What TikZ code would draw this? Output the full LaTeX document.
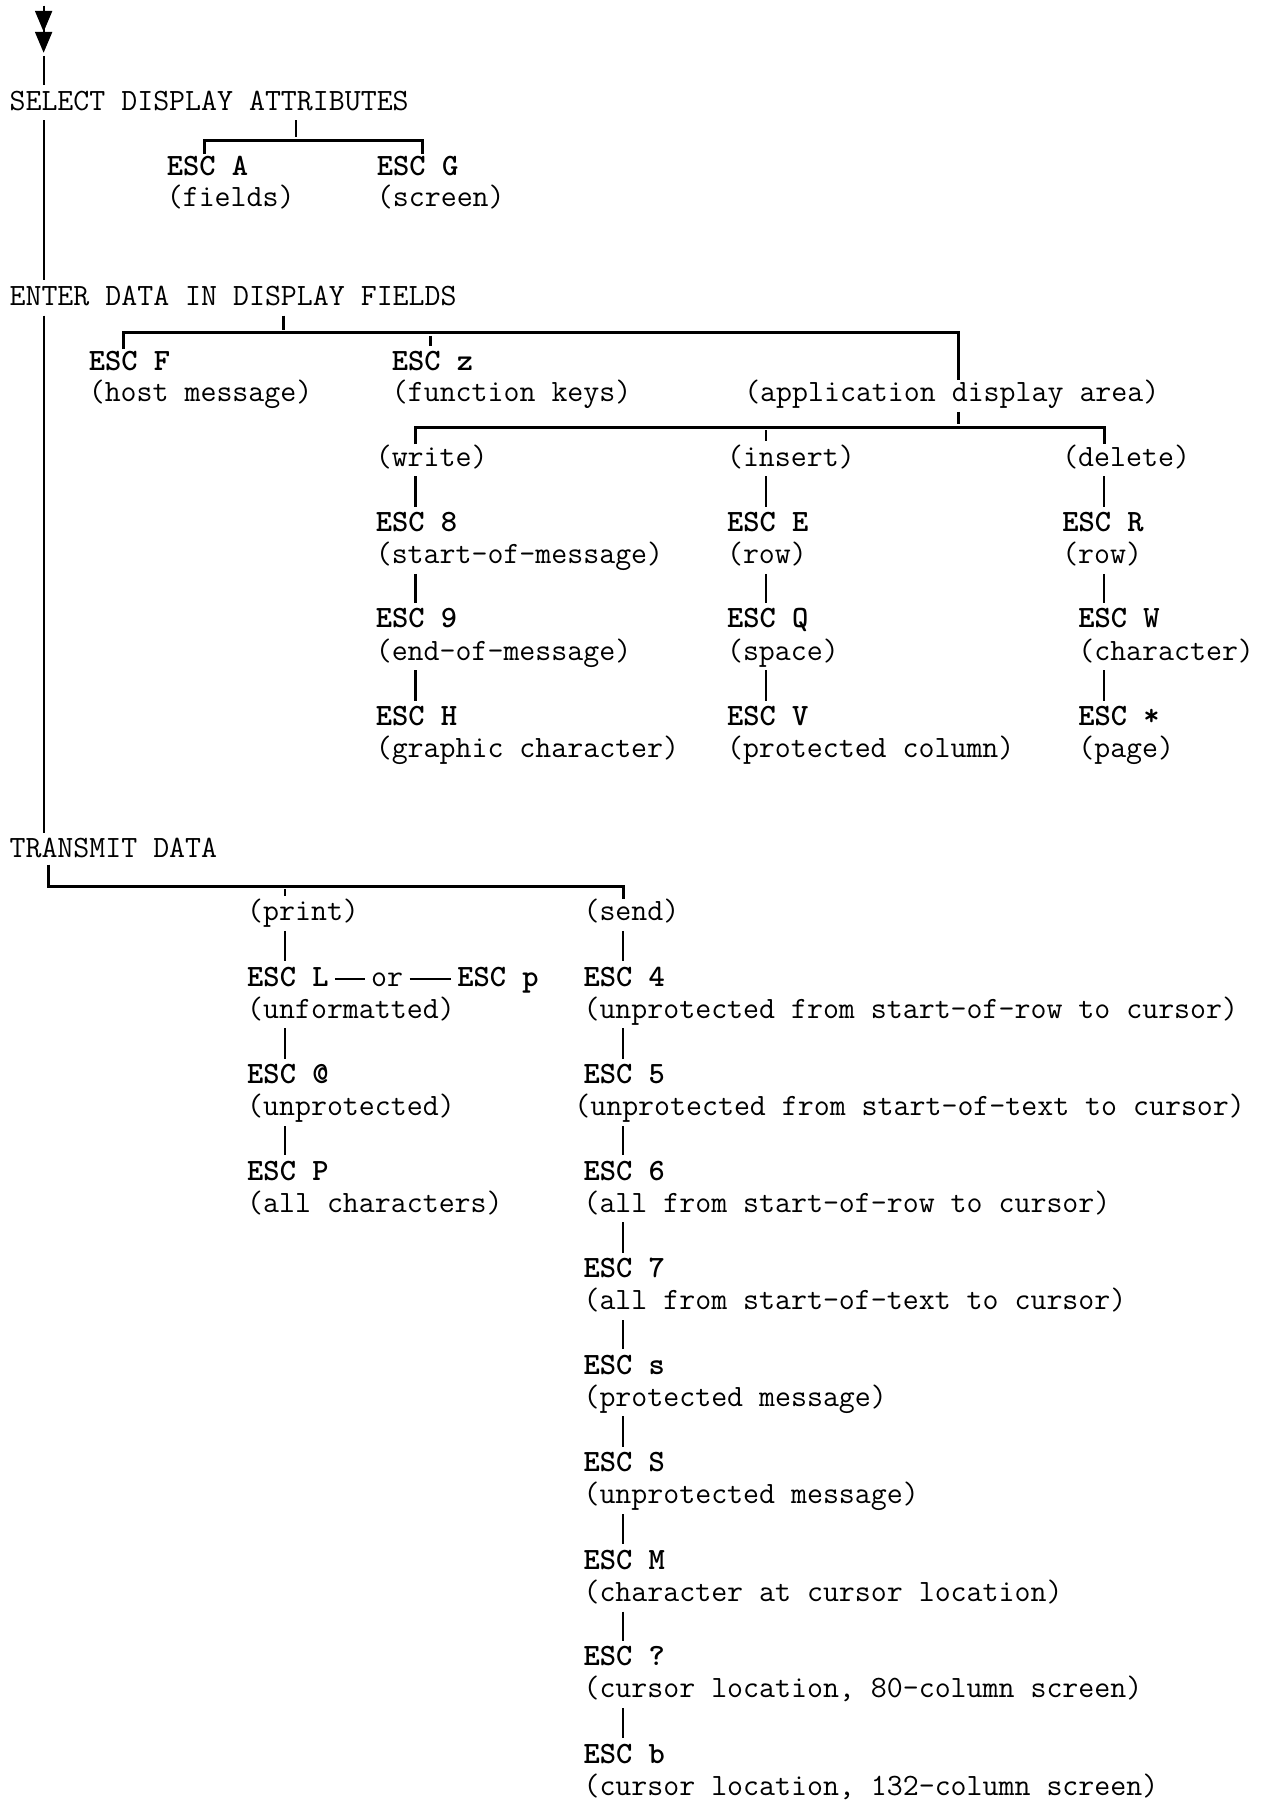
\documentclass[tikz,border=0pt]{standalone}
\usetikzlibrary{arrows.meta}
\begin{document}
\begin{tikzpicture}[x=0.574pt, y=-0.574pt,
        heading/.style={anchor=base west, inner sep=0pt, text height=10.8pt, text depth=3.4pt, font=\ttfamily\fontsize{15.5}{18}\selectfont},
        note/.style={heading},
        code/.style={heading, font=\ttfamily\bfseries\fontsize{15.5}{18}\selectfont},
        link/.style={line width=1.1pt, shorten >=1.5pt, shorten <=1.5pt},
        bar/.style={line width=1.5pt}]

        \useasboundingbox (0, 0) rectangle (1102, 1568);

        \node[heading] (select) at (8, 96) {SELECT DISPLAY ATTRIBUTES};
        \node[code] (escA) at (145, 153) {ESC A};
        \node[note] (fields) at (145, 180) {(fields)};
        \node[code] (escG) at (328, 153) {ESC G};
        \node[note] (screen) at (328, 180) {(screen)};

        \node[heading] (enter) at (8, 266) {ENTER DATA IN DISPLAY FIELDS};
        \node[code] (escF) at (77, 323) {ESC F};
        \node[note] (host) at (77, 350) {(host message)};
        \node[code] (escz) at (341, 323) {ESC z};
        \node[note] (fkeys) at (341, 350) {(function keys)};
        \node[note] (app) at (648, 350) {(application display area)};

        \node[note] (write) at (327, 406) {(write)};
        \node[code] (esc8) at (327, 463) {ESC 8};
        \node[note] (som) at (327, 491) {(start-of-message)};
        \node[code] (esc9) at (327, 547) {ESC 9};
        \node[note] (eom) at (327, 575) {(end-of-message)};
        \node[code] (escH) at (327, 632) {ESC H};
        \node[note] (graphic) at (327, 660) {(graphic character)};

        \node[note] (insert) at (633, 406) {(insert)};
        \node[code] (escE) at (633, 463) {ESC E};
        \node[note] (rowE) at (633, 491) {(row)};
        \node[code] (escQ) at (633, 547) {ESC Q};
        \node[note] (space) at (633, 575) {(space)};
        \node[code] (escV) at (633, 632) {ESC V};
        \node[note] (pcol) at (633, 660) {(protected column)};

        \node[note] (delete) at (925, 406) {(delete)};
        \node[code] (escR) at (925, 463) {ESC R};
        \node[note] (rowR) at (925, 491) {(row)};
        \node[code] (escW) at (939, 547) {ESC W};
        \node[note] (char) at (939, 575) {(character)};
        \node[code] (escStar) at (939, 632) {ESC *};
        \node[note] (page) at (939, 660) {(page)};

        \node[heading] (transmit) at (8, 747) {TRANSMIT DATA};
        \node[note] (print) at (215, 802) {(print)};
        \node[code] (escL) at (215, 859) {ESC L};
        \node[note] (or) at (323, 859) {or};
        \node[code] (escp) at (398, 859) {ESC p};
        \node[note] (unform) at (215, 887) {(unformatted)};
        \node[code] (escAt) at (215, 944) {ESC @};
        \node[note] (unprot) at (215, 972) {(unprotected)};
        \node[code] (escP) at (215, 1028) {ESC P};
        \node[note] (allchar) at (215, 1056) {(all characters)};

        \node[note] (send) at (508, 802) {(send)};
        \node[code] (esc4) at (508, 859) {ESC 4};
        \node[note] (upRow) at (508, 887) {(unprotected from start-of-row to cursor)};
        \node[code] (esc5) at (508, 944) {ESC 5};
        \node[note] (upText) at (500, 972) {(unprotected from start-of-text to cursor)};
        \node[code] (esc6) at (508, 1028) {ESC 6};
        \node[note] (allRow) at (508, 1056) {(all from start-of-row to cursor)};
        \node[code] (esc7) at (508, 1113) {ESC 7};
        \node[note] (allText) at (508, 1141) {(all from start-of-text to cursor)};
        \node[code] (escs) at (508, 1197) {ESC s};
        \node[note] (protMsg) at (508, 1225) {(protected message)};
        \node[code] (escS) at (508, 1282) {ESC S};
        \node[note] (unprotMsg) at (508, 1310) {(unprotected message)};
        \node[code] (escM) at (508, 1367) {ESC M};
        \node[note] (charLoc) at (508, 1395) {(character at cursor location)};
        \node[code] (escQm) at (508, 1451) {ESC ?};
        \node[note] (loc80) at (508, 1479) {(cursor location, 80-column screen)};
        \node[code] (escb) at (508, 1536) {ESC b};
        \node[note] (loc132) at (508, 1564) {(cursor location, 132-column screen)};

        \coordinate (entry) at (38, 5);
        \coordinate (tip) at (38, 46);
        \coordinate (sj) at (258, 122);
        \coordinate (sa) at (178, 122);
        \coordinate (sg) at (368, 122);
        \coordinate (ej) at (247, 290);
        \coordinate (ef) at (108, 290);
        \coordinate (ez) at (375, 290);
        \coordinate (ea) at (835, 290);
        \coordinate (aj) at (835, 372);
        \coordinate (aw) at (362, 372);
        \coordinate (ai) at (667, 372);
        \coordinate (ad) at (962, 372);
        \coordinate (tc) at (42, 772);
        \coordinate (tp) at (248, 772);
        \coordinate (ts) at (543, 772);

        \draw[line width=1.1pt, -{Triangle[length=10.5pt, width=8.5pt]Triangle[length=10.5pt, width=8.5pt]}] (entry) -- (tip);
        \draw[link] (tip) -- (tip |- select.north);
        \draw[link] (select.south -| tip) -- (enter.north -| tip);
        \draw[link] (enter.south -| tip) -- (transmit.north -| tip);

        \draw[link] (select.south -| sj) -- (sj);
        \draw[bar] (sa |- escA.north) -- (sa) -- (sg) -- (sg |- escG.north);

        \draw[link] (enter.south -| ej) -- (ej);
        \draw[bar] (ef |- escF.north) -- (ef) -- (ea) -- (ea |- app.north);
        \draw[link] (ez) -- (ez |- escz.north);

        \draw[link] (app.south -| aj) -- (aj);
        \draw[bar] (aw |- write.north) -- (aw) -- (ad) -- (ad |- delete.north);
        \draw[link] (ai) -- (ai |- insert.north);

        \draw[link] (write.south -| aw) -- (esc8.north -| aw);
        \draw[link] (som.south -| aw) -- (esc9.north -| aw);
        \draw[link] (eom.south -| aw) -- (escH.north -| aw);
        \draw[link] (insert.south -| ai) -- (escE.north -| ai);
        \draw[link] (rowE.south -| ai) -- (escQ.north -| ai);
        \draw[link] (space.south -| ai) -- (escV.north -| ai);
        \draw[link] (delete.south -| ad) -- (escR.north -| ad);
        \draw[link] (rowR.south -| ad) -- (escW.north -| ad);
        \draw[link] (char.south -| ad) -- (escStar.north -| ad);

        \draw[bar] (transmit.south -| tc) -- (tc) -- (ts) -- (ts |- send.north);
        \draw[link] (tp) -- (tp |- print.north);

        \draw[link] (print.south -| tp) -- (escL.north -| tp);
        \draw[link, shorten >=3pt, shorten <=3pt] (escL) -- (or);
        \draw[link, shorten >=3pt, shorten <=3pt] (or) -- (escp);
        \draw[link] (unform.south -| tp) -- (escAt.north -| tp);
        \draw[link] (unprot.south -| tp) -- (escP.north -| tp);

        \draw[link] (send.south -| ts) -- (esc4.north -| ts);
        \draw[link] (upRow.south -| ts) -- (esc5.north -| ts);
        \draw[link] (upText.south -| ts) -- (esc6.north -| ts);
        \draw[link] (allRow.south -| ts) -- (esc7.north -| ts);
        \draw[link] (allText.south -| ts) -- (escs.north -| ts);
        \draw[link] (protMsg.south -| ts) -- (escS.north -| ts);
        \draw[link] (unprotMsg.south -| ts) -- (escM.north -| ts);
        \draw[link] (charLoc.south -| ts) -- (escQm.north -| ts);
        \draw[link] (loc80.south -| ts) -- (escb.north -| ts);
    \end{tikzpicture}
\end{document}
